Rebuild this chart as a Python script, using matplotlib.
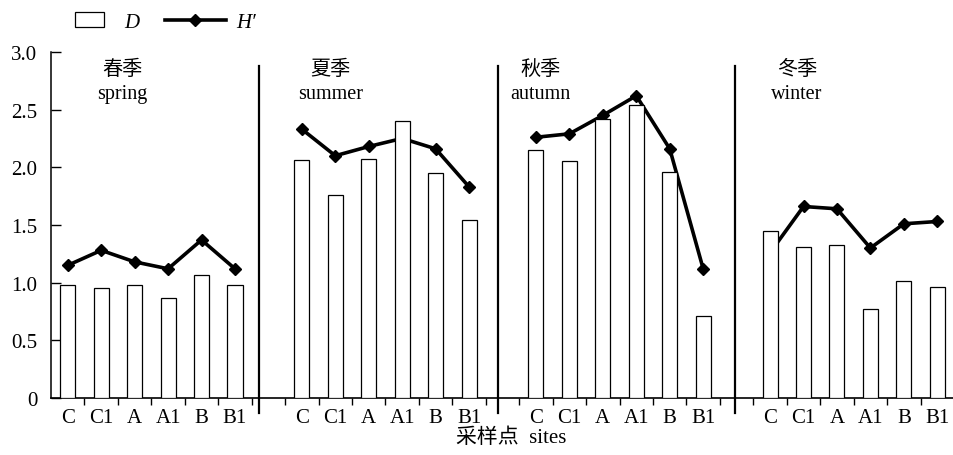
import numpy as np
import matplotlib.pyplot as plt
from matplotlib.patches import Patch, Rectangle
from matplotlib.lines import Line2D
from matplotlib.legend_handler import HandlerPatch

plt.rcParams['font.family'] = ['Liberation Serif', 'Noto Sans CJK SC']

sites = ["C", "C1", "A", "A1", "B", "B1"]
seasons_cn = ["春季", "夏季", "秋季", "冬季"]
seasons_en = ["spring", "summer", "autumn", "winter"]

# Margalef richness D and Shannon H' per season, sites in order C C1 A A1 B B1
D_spring = [0.98, 0.95, 0.98, 0.87, 1.07, 0.98]
D_summer = [2.06, 1.76, 2.07, 2.40, 1.95, 1.54]
D_autumn = [2.15, 2.05, 2.42, 2.54, 1.96, 0.71]
D_winter = [1.45, 1.31, 1.33, 0.77, 1.01, 0.96]

H_spring = [1.15, 1.28, 1.18, 1.12, 1.37, 1.12]
H_summer = [2.33, 2.10, 2.18, 2.25, 2.16, 1.83]
H_autumn = [2.26, 2.29, 2.45, 2.62, 2.16, 1.12]
H_winter = [1.26, 1.66, 1.64, 1.30, 1.51, 1.53]

D_all = [D_spring, D_summer, D_autumn, D_winter]
H_all = [H_spring, H_summer, H_autumn, H_winter]

fig = plt.figure(figsize=(9.54, 4.56), dpi=100)
ax = fig.add_axes([0.0535, 0.125, 0.9465, 0.759])

label_off = [1.62, 0.86, 0.13, 0.8]   # season label centre, relative to first site
divs = [5.72, 12.85, 19.95]
for k in range(4):
    x = np.arange(6) + 7 * k
    ax.plot(x, H_all[k], color="black", lw=2.6, marker="D", ms=6.5, zorder=2)
    ax.bar(x, D_all[k], width=0.45, color="white", edgecolor="black",
           lw=0.9, zorder=3)
    xc = x[0] + label_off[k]
    ax.text(xc, 2.85, seasons_cn[k], ha="center", va="center", fontsize=14.5)
    ax.text(xc, 2.64, seasons_en[k], ha="center", va="center", fontsize=14.5)

for xd in divs:
    ax.plot([xd, xd], [-0.13, 2.88], color="black", lw=1.6, clip_on=False)

centers = [i + 7 * k for k in range(4) for i in range(6)]
ax.set_xlim(-0.5, 26.5)
ax.set_ylim(0, 3.0)
ax.set_xticks(np.arange(0.5, 26.5, 1.0))
ax.set_xticklabels([])
ax.set_xticks(centers, minor=True)
ax.set_xticklabels(sites * 4, minor=True, fontsize=15)
ax.tick_params(axis="x", which="major", direction="out", length=5, width=1)
ax.tick_params(axis="x", which="minor", length=0, pad=7)
ax.set_yticks([0, 0.5, 1.0, 1.5, 2.0, 2.5, 3.0])
ax.set_yticklabels(["0", "0.5", "1.0", "1.5", "2.0", "2.5", "3.0"], fontsize=15)
ax.tick_params(axis="y", direction="in", length=7, width=1, pad=10)
for s in ["top", "right"]:
    ax.spines[s].set_visible(False)
ax.spines["left"].set_linewidth(1.1)
ax.spines["bottom"].set_linewidth(1.2)

fig.text(511 / 954, 0.04, "采样点  sites", ha="center", va="center", fontsize=15)


def small_box(legend, orig_handle, xdescent, ydescent, width, height, fontsize):
    w = width * 0.48
    return Rectangle((width - w - width * 0.15 - xdescent, -ydescent), w, height)


handles = [Patch(facecolor="white", edgecolor="black", lw=0.9),
           Line2D([], [], color="black", lw=2.6, marker="D", ms=6.5)]
fig.legend(handles, ["D", "H′"], loc="upper left", bbox_to_anchor=(0.036, 1.012),
           ncol=2, frameon=False, handlelength=2.9, handletextpad=0.5,
           columnspacing=1.25, prop={"style": "italic", "size": 15},
           handler_map={Patch: HandlerPatch(patch_func=small_box)})

fig.savefig("out.png", dpi=100)
